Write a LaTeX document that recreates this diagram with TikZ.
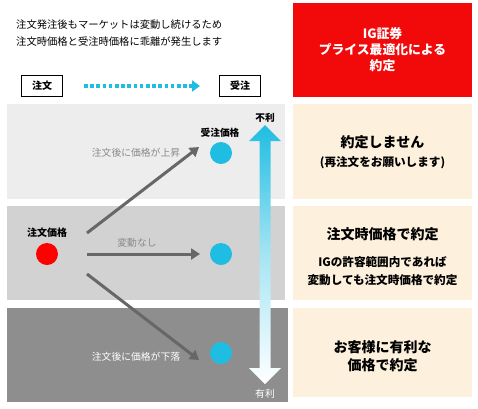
\documentclass[tikz,border=0pt]{standalone}
\usepackage{fontspec}
\setmainfont{Noto Sans CJK JP}
\usetikzlibrary{arrows.meta}
\definecolor{cyanc}{HTML}{1FBDE2}
\definecolor{redbox}{HTML}{F20A0A}
\definecolor{cream}{HTML}{FDF0DC}
\definecolor{bandA}{HTML}{EDEDED}
\definecolor{bandB}{HTML}{D3D2D2}
\definecolor{bandC}{HTML}{8E8E8E}
\definecolor{arrg}{HTML}{676767}
\definecolor{lbl}{HTML}{8A8A8A}
\begin{document}
\begin{tikzpicture}[x=1pt,y=-1pt,
  lab/.style={inner sep=0pt,font=\fontsize{9.8}{12}\selectfont},
  boldlab/.style={inner sep=0pt,font=\fontsize{9.7}{12}\selectfont\bfseries},
  bigtxt/.style={align=center,inner sep=0pt,font=\fontsize{14}{17.5}\selectfont\bfseries},
  midtxt/.style={align=center,inner sep=0pt,font=\fontsize{11.6}{18}\selectfont\bfseries},
  smallbox/.style={draw=black,line width=0.6pt,fill=white,minimum width=41pt,minimum height=21pt,inner sep=0pt,font=\fontsize{10}{12}\selectfont\bfseries},
  dot/.style={circle,minimum size=22pt,inner sep=0pt},
  pricearrow/.style={draw=arrg,line width=3pt,-{Triangle[length=9pt,width=11pt]}}]
\useasboundingbox (0,0) rectangle (478,408);
\fill[white] (0,0) rectangle (478,408);
% header text
\node[anchor=west,inner sep=0pt,font=\fontsize{10.3}{13}\selectfont] (t1) at (16,25) {注文発注後もマーケットは変動し続けるため};
\node[anchor=west,inner sep=0pt,font=\fontsize{10.3}{13}\selectfont] (t2) at (16,42) {注文時価格と受注時価格に乖離が発生します};
\node[smallbox] (order) at (42,86) {注文};
\node[smallbox] (recv) at (240,86) {受注};
\coordinate (ds) at (84,86);
\coordinate (de) at (200,86);
\draw[cyanc,line width=3.2pt,dash pattern=on 3.6pt off 2.6pt,-{Triangle[length=8pt,width=11pt]}] (ds) -- (de);
% red title box
\node[fill=redbox,minimum width=179pt,minimum height=94pt,inner sep=0pt,text=white,align=center,font=\fontsize{12.8}{16}\selectfont\bfseries] (title) at (382.5,50) {IG証券\\プライス最適化による\\約定};
% bands
\fill[bandA] (7,104) rectangle (285,199);
\fill[bandB] (7,206) rectangle (285,300);
\fill[bandC] (7,308) rectangle (288,402);
% right boxes
\fill[cream] (293,104) rectangle (472,199);
\fill[cream] (293,206) rectangle (472,300);
\fill[cream] (293,308) rectangle (472,397);
\node[bigtxt] (r1a) at (382.5,142) {約定しません};
\node[midtxt] (r1b) at (382.5,163) {(再注文をお願いします)};
\node[bigtxt] (r2a) at (382.5,234) {注文時価格で約定};
\node[midtxt] (r2b) at (382.5,271) {IGの許容範囲内であれば\\変動しても注文時価格で約定};
\node[bigtxt] (r3) at (382.5,356) {お客様に有利な\\価格で約定};
% big vertical arrow
\shade[top color=cyanc,bottom color=white,middle color=cyanc!40]
  (265,125) -- (281,141) -- (270.5,141) -- (270.5,368) -- (281,368) -- (265,384)
  -- (249,368) -- (259.5,368) -- (259.5,141) -- (249,141) -- cycle;
\node[boldlab] (bad) at (265,118) {不利};
\node[lab,text=white] (good) at (265,394) {有利};
% dots
\node[dot,fill=red] (op) at (47,254) {};
\node[boldlab,font=\fontsize{10}{12}\selectfont\bfseries] (oplab) at (47,233) {注文価格};
\node[dot,fill=cyanc] (up) at (221,153) {};
\node[dot,fill=cyanc] (same) at (221,254) {};
\node[dot,fill=cyanc] (down) at (221,353) {};
\node[boldlab] (uplab) at (220,133) {受注価格};
% arrows
\coordinate (a1s) at (87,233);
\coordinate (a2s) at (87,254);
\coordinate (a3s) at (87,274);
\draw[pricearrow] (a1s) -- ([xshift=-22pt,yshift=6pt]up.center);
\draw[pricearrow] (a2s) -- ([xshift=-21pt]same.center);
\draw[pricearrow] (a3s) -- ([xshift=-22pt,yshift=-7pt]down.center);
\node[lab,text=lbl] (l1) at (136,153) {注文後に価格が上昇};
\node[lab,text=lbl] (l2) at (137,243) {変動なし};
\node[lab,text=white] (l3) at (136,357) {注文後に価格が下落};
\end{tikzpicture}
\end{document}
